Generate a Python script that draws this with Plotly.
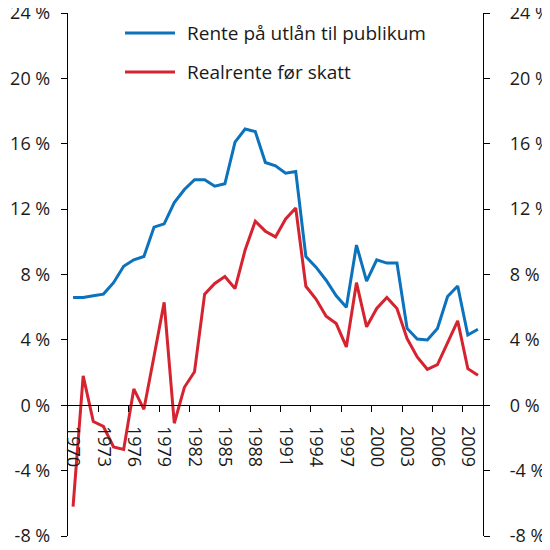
import plotly.graph_objects as go

# %%
years = list(range(1970, 2011))

rente_utlan = [6.6, 6.6, 6.7, 6.8, 7.5, 8.5, 8.9, 9.1, 10.9, 11.1,
               12.4, 13.2, 13.8, 13.8, 13.4, 13.55, 16.1, 16.9, 16.75, 14.85,
               14.65, 14.2, 14.3, 9.1, 8.45, 7.65, 6.7, 6.0, 9.8, 7.6,
               8.9, 8.7, 8.7, 4.7, 4.05, 4.0, 4.7, 6.65, 7.3, 4.3,
               4.65]

realrente = [-6.2, 1.8, -1.0, -1.3, -2.55, -2.7, 1.0, -0.25, 3.0, 6.3,
             -1.1, 1.1, 2.05, 6.8, 7.45, 7.87, 7.14, 9.5, 11.26, 10.65,
             10.3, 11.4, 12.07, 7.28, 6.5, 5.45, 5.0, 3.57, 7.5, 4.8,
             5.92, 6.6, 5.92, 4.08, 2.96, 2.2, 2.49, 3.81, 5.16, 2.24,
             1.84]

y_ticks = [-8, -4, 0, 4, 8, 12, 16, 20, 24]
y_ticktext = [f"{v} %" for v in y_ticks]
x_labels = list(range(1970, 2010, 3))

blue = "#0b72bb"
red = "#d52330"
font = "Open Sans"

# %%
fig = go.Figure()
fig.add_trace(go.Scatter(x=years, y=rente_utlan, mode="lines",
                         line=dict(color=blue, width=3),
                         name="Rente på utlån til publikum"))
fig.add_trace(go.Scatter(x=years, y=realrente, mode="lines", yaxis="y2",
                         line=dict(color=red, width=3),
                         name="Realrente før skatt"))

yaxis_common = dict(
    range=[-8, 24],
    tickvals=y_ticks,
    ticktext=y_ticktext,
    showgrid=False,
    zeroline=False,
    showline=True,
    linecolor="black",
    linewidth=1.3,
    ticks="outside",
    ticklen=6,
    tickwidth=1.3,
    tickcolor="black",
    automargin=False,
    ticklabeloverflow="allow",
    tickfont=dict(family=font, size=18, color="#1a1a1a"),
)

# the page body adds an 8px offset, so the figure is 542px and shifted back
fig.update_layout(
    width=542,
    height=542,
    margin=dict(l=60, r=67, t=5, b=14),
    plot_bgcolor="white",
    paper_bgcolor="white",
    showlegend=False,
    xaxis=dict(
        range=[1969.5, 2010.5],
        anchor="free",
        position=0.25,
        showline=True,
        linecolor="black",
        linewidth=1.3,
        showgrid=False,
        zeroline=False,
        automargin=False,
        tickvals=x_labels,
        ticktext=[str(y) for y in x_labels],
        ticks="",
        tickangle=90,
        ticklabelstandoff=16,
        tickfont=dict(family=font, size=18, color="#1a1a1a"),
        minor=dict(tickvals=[y + 2.5 for y in x_labels], ticks="outside",
                   ticklen=6, tickwidth=1.3, tickcolor="black"),
    ),
    yaxis=dict(**yaxis_common, side="left", ticklabelstandoff=7),
    yaxis2=dict(**yaxis_common, side="right", overlaying="y", anchor="x",
                matches="y", ticklabelstandoff=16),
)

# manual legend, placed in pixel terms of the plot area
def px_x(px):
    return (px - 68) / 415

def px_y(py):
    return (536 - py) / 523

for label, color, py in [("Rente på utlån til publikum", blue, 33),
                         ("Realrente før skatt", red, 72)]:
    fig.add_shape(type="line", xref="paper", yref="paper",
                  x0=px_x(125), x1=px_x(175), y0=px_y(py), y1=px_y(py),
                  line=dict(color=color, width=3))
    fig.add_annotation(xref="paper", yref="paper", x=px_x(185), y=px_y(py),
                       text=label, showarrow=False, xanchor="left",
                       yanchor="middle",
                       font=dict(family=font, size=19, color="#1a1a1a"))

fig.write_html("out.html")
